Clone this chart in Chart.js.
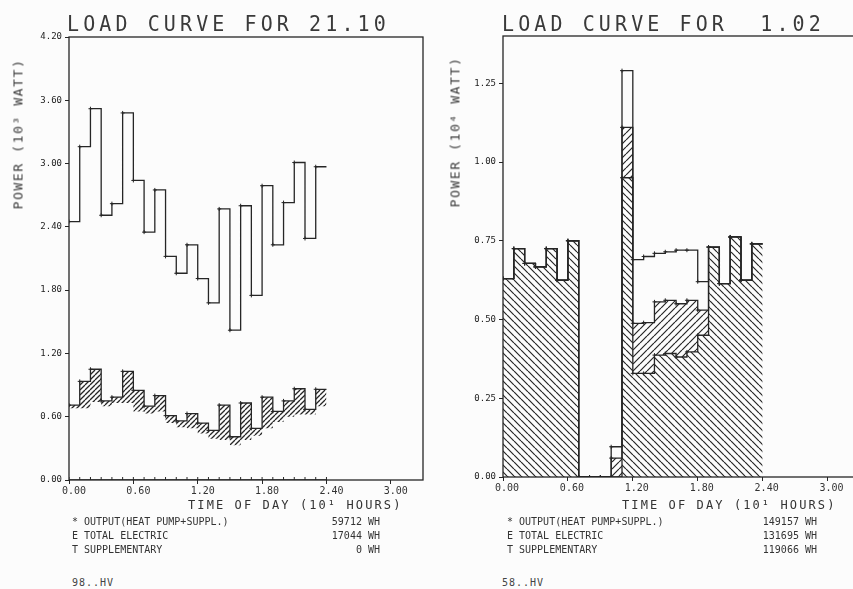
<!DOCTYPE html>
<html>
<head>
<meta charset="utf-8">
<title>Load curves</title>
<script src="https://cdn.jsdelivr.net/npm/chart.js@4.4.1/dist/chart.umd.min.js"></script>
<style>
  html, body { margin: 0; padding: 0; background: #fcfcfc; overflow: hidden; }
  body { width: 853px; height: 589px; position: relative; font-family: "DejaVu Sans Mono", monospace; color: #333; }
  canvas { position: absolute; top: 0; }
  .title { position: absolute; top: 13px; font-size: 20px; line-height: 1; letter-spacing: 4.1px; white-space: pre;
           transform: scaleY(1.06); transform-origin: left top; color: #3a3a3a; }
  .ytitle { position: absolute; font-size: 13px; line-height: 1; letter-spacing: 1.6px; white-space: pre;
            transform: translate(-50%, -50%) rotate(-90deg); color: #3a3a3a; }
  .xtitle { position: absolute; top: 499px; font-size: 12px; line-height: 1; letter-spacing: 2.1px; white-space: pre; }
  .legend { position: absolute; top: 515px; font-size: 10px; line-height: 14px; }
  .legend div { display: flex; justify-content: space-between; white-space: pre; }
  .tag { position: absolute; top: 577px; font-size: 10px; letter-spacing: 1px; color: #444; }
</style>
</head>
<body>
<canvas id="curveA" width="440" height="530" style="left:0"></canvas>
<canvas id="curveB" width="440" height="530" style="left:430px"></canvas>

<div class="title" style="left:67px">LOAD CURVE FOR 21.10</div>
<div class="title" style="left:502px">LOAD CURVE FOR  1.02</div>
<div class="ytitle" style="left:18px; top:134px">POWER (10³ WATT)</div>
<div class="ytitle" style="left:455px; top:132px">POWER (10⁴ WATT)</div>
<div class="xtitle" style="left:188px">TIME OF DAY (10¹ HOURS)</div>
<div class="xtitle" style="left:622px">TIME OF DAY (10¹ HOURS)</div>

<div class="legend" style="left:72px; width:308px">
  <div><span>* OUTPUT(HEAT PUMP+SUPPL.)</span><span>59712 WH</span></div>
  <div><span>E TOTAL ELECTRIC</span><span>17044 WH</span></div>
  <div><span>T SUPPLEMENTARY</span><span>0 WH</span></div>
</div>
<div class="legend" style="left:507px; width:310px">
  <div><span>* OUTPUT(HEAT PUMP+SUPPL.)</span><span>149157 WH</span></div>
  <div><span>E TOTAL ELECTRIC</span><span>131695 WH</span></div>
  <div><span>T SUPPLEMENTARY</span><span>119066 WH</span></div>
</div>
<div class="tag" style="left:72px">98..HV</div>
<div class="tag" style="left:502px">58..HV</div>

<script>
// step edges in units of 10 hours (24 hourly steps)
const hours = [0.0, 0.1, 0.2, 0.3, 0.4, 0.5, 0.6, 0.7, 0.8, 0.9, 1.0, 1.1, 1.2,
  1.3, 1.4, 1.5, 1.6, 1.7, 1.8, 1.9, 2.0, 2.1, 2.2, 2.3, 2.4];

// 21.10, power in 10^3 W
const outputA = [2.45, 3.16, 3.52, 2.51, 2.62, 3.48, 2.84, 2.35, 2.75, 2.12, 1.96, 2.23,
  1.91, 1.68, 2.57, 1.42, 2.60, 1.75, 2.79, 2.23, 2.63, 3.01, 2.29, 2.97];
const electricA = [0.71, 0.935, 1.05, 0.75, 0.785, 1.03, 0.85, 0.70, 0.80, 0.61, 0.56, 0.63,
  0.54, 0.47, 0.71, 0.41, 0.73, 0.49, 0.785, 0.65, 0.75, 0.865, 0.67, 0.86];
// lower edge of the hatched strip under the electric curve
const electricShadeA = [0.68, 0.68, 0.74, 0.70, 0.73, 0.73, 0.65, 0.63, 0.65, 0.54, 0.50, 0.49,
  0.44, 0.39, 0.38, 0.33, 0.38, 0.42, 0.49, 0.55, 0.60, 0.62, 0.62, 0.70];
const supplA = [0, 0, 0, 0, 0, 0, 0, 0, 0, 0, 0, 0, 0, 0, 0, 0, 0, 0, 0, 0, 0, 0, 0, 0];

// 1.02, power in 10^4 W
const outputB = [0.63, 0.725, 0.678, 0.667, 0.725, 0.625, 0.75, 0, 0, 0, 0.096, 1.29,
  0.69, 0.70, 0.71, 0.715, 0.72, 0.72, 0.62, 0.73, 0.614, 0.762, 0.625, 0.74];
const electricB = [0.63, 0.725, 0.678, 0.667, 0.725, 0.625, 0.75, 0, 0, 0, 0.06, 1.11,
  0.488, 0.49, 0.556, 0.561, 0.55, 0.561, 0.53, 0.73, 0.614, 0.762, 0.625, 0.74];
const supplB = [0.63, 0.725, 0.678, 0.667, 0.725, 0.625, 0.75, 0, 0, 0, 0, 0.95,
  0.329, 0.329, 0.387, 0.392, 0.381, 0.397, 0.45, 0.73, 0.614, 0.762, 0.625, 0.74];

const xTicks = [0.0, 0.6, 1.2, 1.8, 2.4, 3.0];
const yTicksA = [0.0, 0.6, 1.2, 1.8, 2.4, 3.0, 3.6, 4.2];
const yTicksB = [0.0, 0.25, 0.5, 0.75, 1.0, 1.25];

const ink = "#262626";

function steps(vals) {
  const pts = vals.map((v, i) => ({ x: hours[i], y: v }));
  pts.push({ x: hours[vals.length], y: vals[vals.length - 1] });
  return pts;
}

// diagonal hatching: "fwd" = /, "back" = \
function hatch(dir, size, width) {
  const c = document.createElement("canvas");
  c.width = size;
  c.height = size;
  const g = c.getContext("2d");
  g.strokeStyle = ink;
  g.lineWidth = width;
  g.beginPath();
  for (const o of [-size, 0, size]) {
    if (dir === "back") { g.moveTo(o, 0); g.lineTo(o + size, size); }
    else { g.moveTo(o, size); g.lineTo(o + size, 0); }
  }
  g.stroke();
  return g.createPattern(c, "repeat");
}

const frame = {
  id: "frame",
  afterDraw(chart) {
    const { ctx, chartArea: a } = chart;
    ctx.save();
    ctx.strokeStyle = ink;
    ctx.lineWidth = 1.3;
    ctx.strokeRect(a.left, a.top, a.right - a.left, a.bottom - a.top);
    ctx.restore();
  }
};

// plot symbol at the start of each step, none on the closing point
const mark = (ctx) => (ctx.dataIndex < hours.length - 1 ? 2 : 0);

function line(data, extra) {
  return Object.assign({
    data: steps(data),
    stepped: true,
    borderColor: ink,
    borderWidth: 1.3,
    pointRadius: mark,
    pointStyle: "cross",
    pointBorderWidth: 1,
    fill: false
  }, extra);
}

function loadCurve(id, datasets, o) {
  return new Chart(document.getElementById(id), {
    type: "line",
    data: { datasets },
    plugins: [frame],
    options: {
      responsive: false,
      animation: false,
      layout: { padding: o.padding },
      plugins: { legend: { display: false }, tooltip: { enabled: false } },
      scales: {
        x: {
          type: "linear", min: 0, max: 3.3,
          afterBuildTicks: (ax) => { ax.ticks = xTicks.map((v) => ({ value: v })); },
          afterFit: (ax) => { ax.height = o.xHeight; },
          border: { display: false },
          grid: { drawOnChartArea: false, tickLength: 4, color: ink },
          ticks: { color: "#333", padding: 1, maxRotation: 0, labelOffset: o.labelShift,
                   font: { family: "DejaVu Sans Mono", size: 10 },
                   callback: (v) => v.toFixed(2) }
        },
        y: {
          type: "linear", min: 0, max: o.yMax,
          afterBuildTicks: (ax) => { ax.ticks = o.yTicks.map((v) => ({ value: v })); },
          afterFit: (ax) => { ax.width = o.yWidth; },
          border: { display: false },
          grid: { drawOnChartArea: false, tickLength: 4, color: ink },
          ticks: { color: "#222", padding: 3, font: { family: "DejaVu Sans Mono", size: 9 },
                   callback: (v) => v.toFixed(2) }
        }
      }
    }
  });
}

loadCurve("curveA", [
  line(outputA),
  line(electricA),
  line(electricShadeA, { borderWidth: 0, pointRadius: 0, fill: 1, backgroundColor: hatch("fwd", 5, 1.3) }),
  line(supplA, { pointRadius: 3, pointStyle: "line", rotation: 90 })
], { padding: { top: 37, right: 17, left: 0, bottom: 0 }, xHeight: 50, yWidth: 69, yMax: 4.2,
     yTicks: yTicksA, labelShift: 5 });

loadCurve("curveB", [
  line(outputB),
  line(electricB, { fill: 2, backgroundColor: hatch("fwd", 7, 1.2) }),
  line(supplB, { fill: "origin", backgroundColor: hatch("back", 7, 1.2) })
], { padding: { top: 36, right: 10, left: 0, bottom: 0 }, xHeight: 53, yWidth: 73, yMax: 1.4,
     yTicks: yTicksB, labelShift: 4 });
</script>
</body>
</html>
